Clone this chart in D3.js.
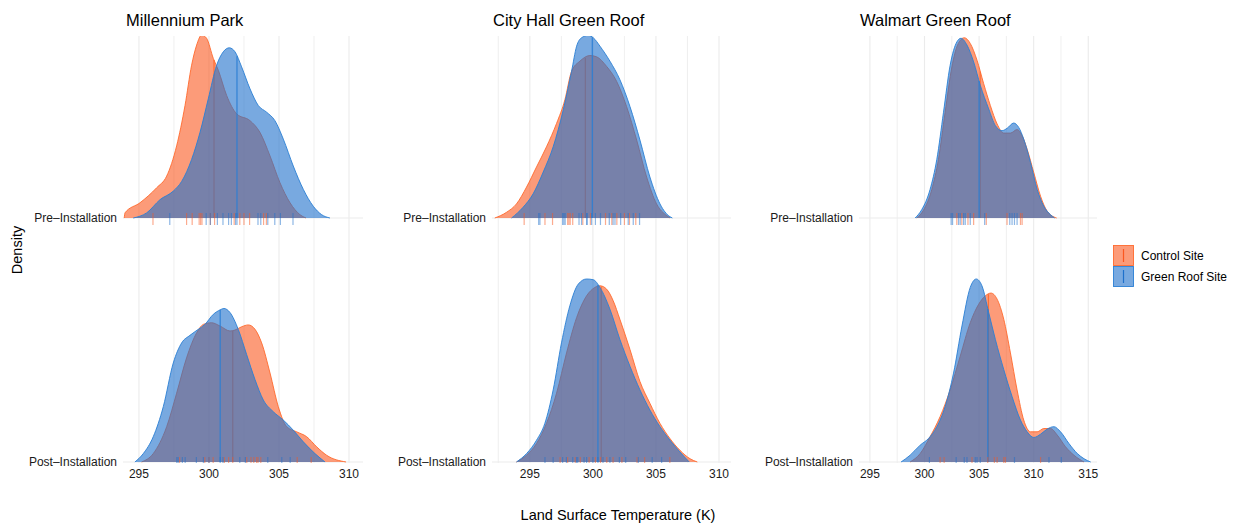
<!DOCTYPE html>
<html>
<head>
<meta charset="utf-8">
<script src="https://cdn.jsdelivr.net/npm/d3@7"></script>
<style>
  body { margin: 0; background: #fff; }
  text { font-family: "Liberation Sans", Arial, sans-serif; }
</style>
</head>
<body>
<div id="chart"></div>
<script>
/* DATA */
const sites = ["Millennium Park", "City Hall Green Roof", "Walmart Green Roof"];
const periods = ["Pre–Installation", "Post–Installation"];
const groups = ["Control Site", "Green Roof Site"];
const xTicks = [[295, 300, 305, 310], [295, 300, 305, 310], [295, 300, 305, 310, 315]];
const xLimits = [[293.86, 311.0], [292.0, 310.95], [294.0, 315.8]];

// density ridges: [temperature K, scaled density]
const mpPreControl = [[293.95,0],[294.0,0.028],[295.07,0.083],[296.26,0.165],[296.98,0.229],[297.69,0.394],[298.29,0.615],[298.76,0.835],[299.12,0.945],[299.48,1.0],[299.83,0.982],[300.31,0.872],[300.67,0.807],[301.26,0.67],[301.98,0.569],[302.93,0.532],[303.64,0.468],[304.36,0.339],[305.07,0.193],[305.79,0.083],[306.5,0.018],[306.93,0]];
const mpPreGreen = [[294.59,0],[295.55,0.028],[296.5,0.10],[297.45,0.147],[298.05,0.20],[298.76,0.32],[299.36,0.468],[299.95,0.651],[300.55,0.835],[301.02,0.908],[301.45,0.93],[301.86,0.908],[302.33,0.826],[302.93,0.706],[303.52,0.615],[304.12,0.578],[304.71,0.532],[305.31,0.431],[306.02,0.284],[306.74,0.156],[307.45,0.064],[308.05,0.018],[308.64,0]];
const mpPostControl = [[295.19,0],[296.02,0.046],[296.98,0.193],[297.69,0.376],[298.4,0.569],[299.12,0.706],[299.6,0.752],[300.19,0.761],[300.79,0.743],[301.5,0.716],[301.86,0.721],[302.33,0.739],[302.81,0.749],[303.29,0.725],[303.76,0.651],[304.36,0.486],[304.95,0.303],[305.55,0.193],[306.26,0.165],[306.98,0.138],[307.69,0.083],[308.4,0.037],[309.79,0]];
const mpPostGreen = [[294.71,0],[295.31,0.046],[296.02,0.138],[296.74,0.303],[297.45,0.541],[298.05,0.651],[298.64,0.692],[299.24,0.725],[299.71,0.752],[300.31,0.807],[300.79,0.831],[301.07,0.839],[301.5,0.817],[302.09,0.725],[302.69,0.587],[303.29,0.45],[303.88,0.339],[304.59,0.275],[305.31,0.229],[306.02,0.174],[306.74,0.11],[307.57,0.046],[308.29,0]];
const chPreControl = [[292.22,0],[293.15,0.031],[293.94,0.077],[294.74,0.169],[295.53,0.279],[296.32,0.389],[297.12,0.517],[297.78,0.646],[298.31,0.802],[298.97,0.857],[299.76,0.888],[300.29,0.881],[301.08,0.829],[301.88,0.747],[302.67,0.609],[303.47,0.426],[304.26,0.224],[305.05,0.077],[305.85,0.013],[306.11,0]];
const chPreGreen = [[293.55,0],[294.47,0.059],[295.26,0.132],[296.06,0.251],[296.85,0.389],[297.65,0.591],[298.31,0.802],[298.71,0.939],[299.1,0.985],[299.63,0.998],[300.03,0.985],[300.56,0.939],[301.35,0.857],[302.14,0.756],[302.94,0.609],[303.73,0.426],[304.52,0.224],[305.32,0.077],[306.11,0.007],[306.3,0]];
const chPostControl = [[293.94,0],[294.74,0.037],[295.53,0.101],[296.32,0.211],[297.12,0.376],[297.91,0.596],[298.71,0.789],[299.5,0.908],[300.16,0.954],[300.56,0.963],[301.08,0.945],[301.61,0.881],[302.14,0.78],[302.94,0.615],[303.73,0.44],[304.52,0.321],[305.32,0.211],[306.11,0.128],[306.9,0.064],[307.7,0.018],[308.28,0]];
const chPostGreen = [[293.94,0],[294.74,0.046],[295.53,0.119],[296.19,0.211],[296.85,0.394],[297.51,0.651],[298.17,0.853],[298.84,0.972],[299.5,1.0],[300.03,0.996],[300.56,0.954],[301.35,0.835],[302.14,0.67],[302.94,0.523],[303.73,0.394],[304.52,0.284],[305.32,0.193],[306.11,0.119],[306.9,0.055],[307.64,0]];
const wmPreControl = [[299.29,0],[299.9,0.042],[300.67,0.156],[301.28,0.321],[301.89,0.578],[302.51,0.826],[303.03,0.945],[303.64,0.985],[304.19,0.954],[304.81,0.862],[305.42,0.734],[306.03,0.615],[306.65,0.514],[307.26,0.464],[307.87,0.464],[308.48,0.483],[308.94,0.45],[309.4,0.376],[310.01,0.248],[310.63,0.119],[311.24,0.037],[312.1,0]];
const wmPreGreen = [[299.14,0],[299.75,0.046],[300.51,0.156],[301.13,0.321],[301.74,0.578],[302.35,0.835],[302.97,0.963],[303.34,0.982],[303.89,0.945],[304.5,0.853],[305.11,0.725],[305.88,0.596],[306.49,0.505],[307.1,0.477],[307.56,0.49],[308.17,0.519],[308.63,0.495],[309.09,0.431],[309.71,0.303],[310.32,0.156],[310.93,0.064],[311.54,0.018],[311.91,0]];
const wmPostControl = [[298.68,0],[299.6,0.046],[300.51,0.138],[301.43,0.248],[302.35,0.394],[303.27,0.578],[304.19,0.761],[304.96,0.862],[305.57,0.908],[306.09,0.923],[306.65,0.89],[307.26,0.78],[307.87,0.596],[308.48,0.394],[309.09,0.229],[309.71,0.165],[310.32,0.165],[310.93,0.183],[311.54,0.183],[312.16,0.147],[312.92,0.083],[313.69,0.037],[314.61,0]];
const wmPostGreen = [[297.85,0],[298.68,0.037],[299.6,0.092],[300.36,0.128],[301.13,0.193],[301.89,0.303],[302.66,0.486],[303.43,0.743],[304.19,0.954],[304.74,1.0],[305.26,0.963],[305.88,0.817],[306.49,0.67],[307.26,0.505],[308.02,0.358],[308.79,0.229],[309.4,0.165],[310.01,0.134],[310.63,0.152],[311.24,0.18],[311.85,0.193],[312.46,0.165],[313.23,0.101],[314.0,0.046],[314.61,0.018],[315.22,0]];

// observations (rug marks)
const mpPreControlObs = [296.0, 298.4, 298.8, 299.3, 299.4, 299.5, 300.1, 300.4, 301.8, 302.2, 302.5, 302.9, 303.9, 304.1];
const mpPreGreenObs = [297.2, 299.8, 300.1, 300.6, 301.0, 301.4, 301.6, 301.9, 302.0, 303.5, 303.7, 304.2, 304.7, 305.1, 306.0];
const mpPostControlObs = [297.9, 299.7, 300.0, 300.3, 301.1, 301.4, 301.7, 302.7, 303.0, 303.2, 303.4, 303.5, 303.7, 306.3, 307.3];
const mpPostGreenObs = [297.7, 297.8, 298.1, 298.3, 299.1, 299.6, 300.0, 300.8, 301.0, 302.2, 302.6, 304.2, 305.2, 305.8];
const chPreControlObs = [294.55, 296.2, 296.8, 298.0, 298.1, 298.2, 298.4, 299.2, 299.8, 301.0, 301.5, 301.9, 302.5, 302.9, 303.4];
const chPreGreenObs = [295.7, 295.8, 297.6, 297.7, 297.8, 298.9, 299.1, 299.5, 299.55, 299.9, 300.2, 300.6, 301.3, 301.6, 301.75, 302.2, 302.8, 303.2, 303.7];
const chPostControlObs = [297.4, 298.0, 298.6, 299.0, 299.7, 300.2, 300.6, 301.1, 301.6, 302.3, 303.5, 304.1, 306.1];
const chPostGreenObs = [296.2, 296.85, 297.6, 297.9, 298.4, 298.7, 298.8, 299.3, 299.5, 300.0, 300.4, 300.8, 301.35, 302.1, 302.6, 303.6, 304.7, 305.45];
const wmPreControlObs = [302.96, 303.42, 303.98, 304.5, 305.66, 307.56, 308.79, 308.94];
const wmPreGreenObs = [302.44, 302.57, 303.12, 303.27, 303.58, 303.73, 304.19, 305.51, 307.81, 308.02, 308.24, 308.48];
const wmPostControlObs = [301.43, 301.8, 304.35, 305.79, 306.4, 306.65, 307.26, 307.41, 310.63];
const wmPostGreenObs = [300.45, 302.9, 303.64, 303.89, 304.65, 304.81, 305.11, 308.24, 311.4, 312.53];

// medians [site][period][group]
const medians = [
  [[300.36, 302.0], [301.7, 300.8]],
  [[299.4, 299.95], [300.66, 300.4]],
  [[305.1, 305.0], [305.85, 305.8]]
];

/* CONSTANTS */
const width = 1235, height = 524;
const panelTop = 36, panelBottom = 463;
const panelX = [[123, 363], [492, 731], [859, 1097]];
const titleShift = [3, 1, 1];
const colors = ["#FA5820", "#1E70CB"];
const strokes = ["#FF6A2E", "#2A7FD4"];

const curves = [
  [[mpPreControl, mpPreGreen], [mpPostControl, mpPostGreen]],
  [[chPreControl, chPreGreen], [chPostControl, chPostGreen]],
  [[wmPreControl, wmPreGreen], [wmPostControl, wmPostGreen]]
];
const obs = [
  [[mpPreControlObs, mpPreGreenObs], [mpPostControlObs, mpPostGreenObs]],
  [[chPreControlObs, chPreGreenObs], [chPostControlObs, chPostGreenObs]],
  [[wmPreControlObs, wmPreGreenObs], [wmPostControlObs, wmPostGreenObs]]
];

const svg = d3.select("#chart").append("svg")
  .attr("width", width)
  .attr("height", height);

const yScale = d3.scalePoint().domain(periods).range([218, 462]);
const hScale = d3.scaleLinear().domain([0, 1]).range([0, 183]);

// height of a curve at a temperature, for the median lines
function heightAt(curve, t) {
  for (let i = 1; i < curve.length; i++) {
    if (curve[i][0] >= t) {
      const a = curve[i - 1], b = curve[i];
      return a[1] + (b[1] - a[1]) * (t - a[0]) / (b[0] - a[0]);
    }
  }
  return 0;
}

sites.forEach((site, i) => {
  const x = d3.scaleLinear().domain(xLimits[i]).range(panelX[i]);
  const g = svg.append("g");

  svg.append("clipPath").attr("id", "clip" + i)
    .append("rect")
    .attr("x", panelX[i][0]).attr("y", panelTop)
    .attr("width", panelX[i][1] - panelX[i][0])
    .attr("height", panelBottom - panelTop);

  // grid
  const minor = [];
  xTicks[i].forEach(t => { minor.push(t - 2.5); minor.push(t + 2.5); });
  const minorTicks = [...new Set(minor)].filter(t => t > xLimits[i][0] && t < xLimits[i][1] && !xTicks[i].includes(t));
  g.selectAll(".minor").data(minorTicks).join("line")
    .attr("x1", d => x(d)).attr("x2", d => x(d))
    .attr("y1", panelTop).attr("y2", panelBottom)
    .attr("stroke", "#EBEBEB").attr("stroke-width", 0.8);
  g.selectAll(".major").data(xTicks[i]).join("line")
    .attr("x1", d => x(d)).attr("x2", d => x(d))
    .attr("y1", panelTop).attr("y2", panelBottom)
    .attr("stroke", "#EBEBEB").attr("stroke-width", 1.1);
  g.selectAll(".hgrid").data(periods).join("line")
    .attr("x1", panelX[i][0]).attr("x2", panelX[i][1])
    .attr("y1", d => yScale(d)).attr("y2", d => yScale(d))
    .attr("stroke", "#EBEBEB").attr("stroke-width", 1.1);

  const plot = g.append("g").attr("clip-path", `url(#clip${i})`);

  periods.forEach((p, pi) => {
    const base = yScale(p);
    const area = d3.area().curve(d3.curveMonotoneX)
      .x(d => x(d[0])).y0(base).y1(d => base - hScale(d[1]));
    const line = d3.line().curve(d3.curveMonotoneX)
      .x(d => x(d[0])).y(d => base - hScale(d[1]));

    groups.forEach((grp, gi) => {
      const c = curves[i][pi][gi];
      plot.append("path").datum(c)
        .attr("d", area)
        .attr("fill", colors[gi]).attr("fill-opacity", 0.6);
      plot.append("path").datum(c)
        .attr("d", line)
        .attr("fill", "none").attr("stroke", strokes[gi]).attr("stroke-width", 0.9);
      const m = medians[i][pi][gi];
      plot.append("line")
        .attr("x1", x(m)).attr("x2", x(m))
        .attr("y1", base).attr("y2", base - hScale(heightAt(c, m)))
        .attr("stroke", strokes[gi]).attr("stroke-width", 1.1);
    });

    groups.forEach((grp, gi) => {
      plot.selectAll(null).data(obs[i][pi][gi]).join("line")
        .attr("x1", d => x(d)).attr("x2", d => x(d))
        .attr("y1", base - 5).attr("y2", base + 7)
        .attr("stroke", colors[gi]).attr("stroke-opacity", 0.5).attr("stroke-width", 1.2);
    });

    g.append("text")
      .attr("x", panelX[i][0] - 6).attr("y", base + 4)
      .attr("text-anchor", "end")
      .attr("font-size", 12).attr("fill", "#1a1a1a")
      .text(p);
  });

  // x tick labels
  g.selectAll(".tick").data(xTicks[i]).join("text")
    .attr("x", d => x(d)).attr("y", 478)
    .attr("text-anchor", "middle")
    .attr("font-size", 12).attr("fill", "#1a1a1a")
    .text(d => d);

  // facet title
  g.append("text")
    .attr("x", panelX[i][0] + titleShift[i]).attr("y", 26)
    .attr("font-size", 16.5).attr("fill", "#000")
    .text(site);
});

// axis titles
svg.append("text")
  .attr("x", 618).attr("y", 520)
  .attr("text-anchor", "middle")
  .attr("font-size", 14.5)
  .text("Land Surface Temperature (K)");

svg.append("text")
  .attr("transform", "translate(22,250) rotate(-90)")
  .attr("text-anchor", "middle")
  .attr("font-size", 14.5)
  .text("Density");

// legend
const legend = svg.append("g").attr("transform", "translate(1113,245)");
groups.forEach((grp, gi) => {
  const row = legend.append("g").attr("transform", `translate(0, ${gi * 21})`);
  row.append("rect")
    .attr("x", 0.5).attr("y", 0.5).attr("width", 20).attr("height", 20)
    .attr("fill", colors[gi]).attr("fill-opacity", 0.6)
    .attr("stroke", strokes[gi]).attr("stroke-width", 0.9);
  row.append("line")
    .attr("x1", 10.5).attr("x2", 10.5).attr("y1", 4).attr("y2", 17)
    .attr("stroke", colors[gi]).attr("stroke-width", 1.2);
  row.append("text")
    .attr("x", 28).attr("y", 15)
    .attr("font-size", 12)
    .text(grp);
});
</script>
</body>
</html>
